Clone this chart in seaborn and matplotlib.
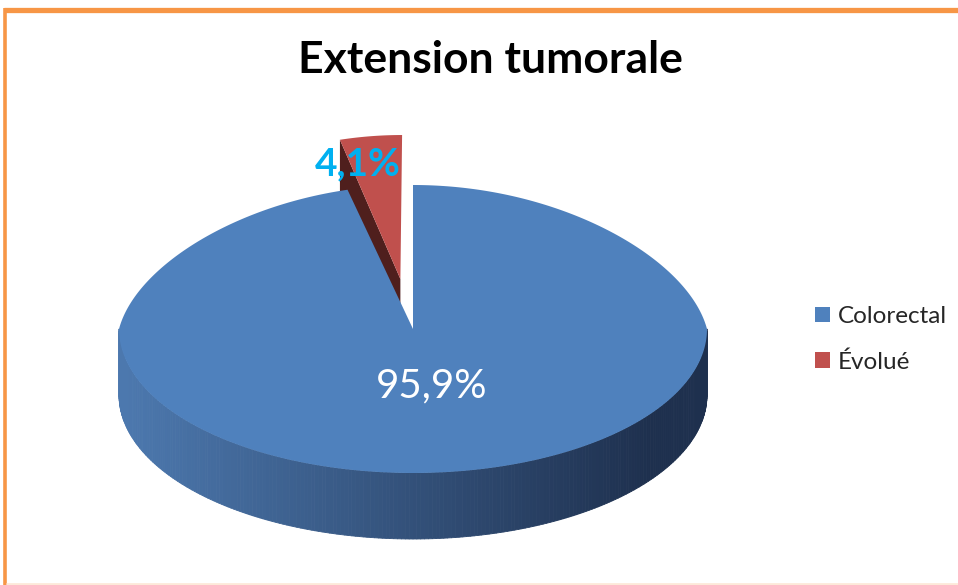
import numpy as np
import matplotlib
matplotlib.use("Agg")
import matplotlib.pyplot as plt
from matplotlib.patches import Polygon, Patch
from matplotlib.collections import PolyCollection
import seaborn as sns

# Data
categories = ["Colorectal", "Évolué"]
percentages = [95.9, 4.1]
explode = [0.0, 0.35]

sns.set_style("white")
plt.rcParams["font.family"] = ["Lato", "DejaVu Sans"]
palette = sns.color_palette(["#4F81BD", "#C0504D"])
side_colors = ["#4F1F1D", "#4F1F1D"]

W, H = 958, 585
fig = plt.figure(figsize=(W / 100, H / 100), dpi=100)
ax = fig.add_axes([0, 0, 1, 1])
ax.set_xlim(0, W)
ax.set_ylim(H, 0)
ax.axis("off")

# Pie geometry (screen units): ellipse centre, semi-axes, wall depth, perspective
cx, cy, a, b, depth, persp = 413, 329, 294, 144, 66, 0.13


def pt(theta, r=1.0, off=(0.0, 0.0), z=0.0):
    t = np.radians(theta)
    yp = off[1] - b * r * np.cos(t)
    s = 1 + persp * min(yp, 0.0) / b  # far side recedes
    x = cx + (off[0] + a * r * np.sin(t)) * s
    return (x, cy + yp + z)


fracs = np.array(percentages) / sum(percentages)
edges = np.concatenate([[0.0], np.cumsum(fracs) * 360.0])

slices = []
for i in range(len(categories)):
    t0, t1 = edges[i], edges[i + 1]
    mid = 0.5 * (t0 + t1)
    off = (a * explode[i] * np.sin(np.radians(mid)), -b * explode[i] * np.cos(np.radians(mid)))
    slices.append((t0, t1, mid, off))


def wall_color(x):
    light = np.array([76, 120, 174]) / 255
    dark = np.array([30, 48, 78]) / 255
    f = np.clip((x - 125) / (650 - 125), 0, 1)
    return tuple(light * (1 - f) + dark * f)


# Back slice (exploded) first, then the large slice in front
for i in [1, 0]:
    t0, t1, mid, off = slices[i]
    # visible cut face at the start angle of the small slice
    if i == 1:
        c = pt(0, 0, off)
        o = pt(t0, 1, off)
        face = [c, o, (o[0], o[1] + depth), (c[0], c[1] + depth)]
        ax.add_patch(Polygon(face, closed=True, facecolor=side_colors[i], edgecolor="none"))
    # front outer wall (gradient strips)
    lo, hi = max(t0, 90), min(t1, 270)
    if hi > lo:
        th = np.linspace(lo, hi, 241)
        strips, cols = [], []
        for k in range(len(th) - 1):
            p0 = pt(th[k], 1, off)
            p1 = pt(th[k + 1], 1, off)
            strips.append([p0, p1, (p1[0], p1[1] + depth), (p0[0], p0[1] + depth)])
            cols.append(wall_color(0.5 * (p0[0] + p1[0])))
        ax.add_collection(PolyCollection(strips, facecolors=cols, edgecolors=cols, linewidths=0.6))
    # top face
    th = np.linspace(t0, t1, 400)
    top = [pt(0, 0, off)] + [pt(t, 1, off) for t in th]
    ax.add_patch(Polygon(top, closed=True, facecolor=palette[i], edgecolor="none"))

# Percentage labels
fmt = lambda v: f"{v:.1f}%".replace(".", ",")
t0, t1, mid, off = slices[0]
lx, ly = pt(mid, 0.4, off)
ax.text(lx + 4, ly, fmt(percentages[0]), color="white", fontsize=29, ha="center", va="center")
ax.text(358, 164, fmt(percentages[1]), color="#00B0F0", fontsize=28, fontweight="bold",
        ha="center", va="center")

# Title
ax.text(490, 60, "Extension tumorale", fontsize=32, fontweight="bold", color="black",
        ha="center", va="center")

# Legend
handles = [Patch(facecolor=palette[i], edgecolor="none", label=categories[i]) for i in range(2)]
leg = ax.legend(handles=handles, loc="center left", bbox_to_anchor=(0.828, 0.42),
                frameon=False, fontsize=17.5, handlelength=0.6, handleheight=0.6,
                handletextpad=0.35, labelspacing=1.0)

# Orange frame
ax.plot([4, W], [9.5, 9.5], color="#F79646", lw=3.8, solid_capstyle="butt")
ax.plot([5.5, 5.5], [8, H], color="#F79646", lw=2.6, solid_capstyle="butt")
ax.plot([6, W], [583.5, 583.5], color="#FDE9D9", lw=2, solid_capstyle="butt")

fig.savefig("out.png", dpi=100)
